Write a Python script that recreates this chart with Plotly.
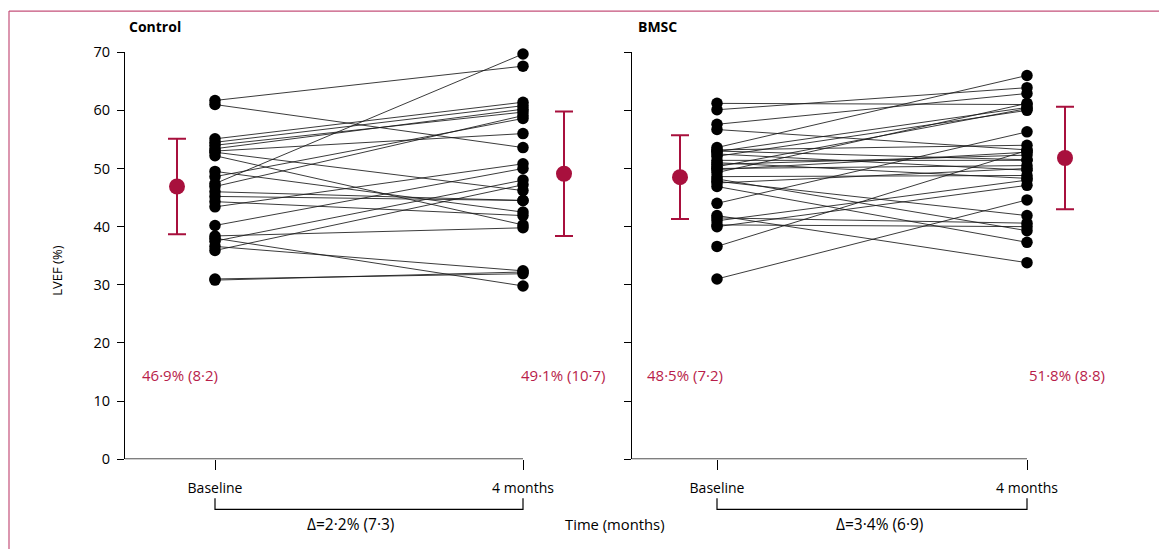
import plotly.graph_objects as go

# ---------------- data ----------------
time_labels = ["Baseline", "4 months"]
panel_titles = ["Control", "BMSC"]

control_baseline = [61.7, 61.0, 47.4, 55.1, 54.5, 54.0, 53.4, 52.8, 52.2, 53.0, 49.5, 48.6, 46.9,
                    46.0, 45.2, 44.3, 43.4, 40.2, 38.4, 37.5, 36.6, 35.9, 38.0, 31.0, 30.8]
control_4mo = [67.6, 53.6, 69.7, 61.4, 60.8, 59.7, 60.2, 46.2, 40.3, 56.0, 42.5, 58.6, 59.1,
               44.5, 44.5, 41.9, 50.8, 50.0, 39.8, 48.0, 32.4, 47.2, 29.8, 31.9, 32.2]

bmsc_baseline = [61.2, 60.1, 57.6, 56.7, 53.6, 52.9, 52.1, 51.4, 50.7, 50.0, 49.3, 48.6, 47.8,
                 46.9, 53.2, 52.5, 48.2, 44.0, 41.9, 41.0, 40.0, 41.5, 40.3, 36.6, 31.0, 49.8,
                 51.0, 47.5, 53.0, 50.3]
bmsc_4mo = [61.0, 63.9, 62.9, 53.2, 66.0, 60.5, 60.0, 51.4, 52.3, 50.5, 61.2, 48.8, 41.9,
            37.3, 54.0, 49.7, 39.3, 56.3, 33.8, 48.0, 47.1, 40.6, 40.0, 53.1, 44.6, 52.8,
            48.3, 50.0, 51.5, 60.3]

control_means = [46.9, 49.1]
control_sds = [8.2, 10.7]
bmsc_means = [48.5, 51.8]
bmsc_sds = [7.2, 8.8]
delta_means = [2.2, 3.4]
delta_sds = [7.3, 6.9]

y_ticks = [0, 10, 20, 30, 40, 50, 60, 70]

# ---------------- styling / layout constants ----------------
W, H = 1159, 549
RED = "#A8103D"
RED_TXT = "#B81D4A"
FRAME = "#C4507A"
LINE = "rgba(25,25,25,0.85)"
FONT = "Open Sans"
Y_OFF, Y_SC = 9.9, 0.963   # screen-y = Y_OFF + Y_SC * layout-y (measured)


def px_x(p):
    return p / W


def px_y(s):
    p = (s - Y_OFF) / Y_SC
    return (H - p) / H


def fmt(v):
    return f"{v}".replace(".", "\u00b7")


ydom = [px_y(458), px_y(52)]
panels = [
    dict(xaxis="x", yaxis="y", dom=[px_x(125), px_x(600)], base=215, four=523, yx=125,
         right=600, mx=[177, 564], lab=[(140, "left"), (608, "right")], title_x=127,
         dx=350, b=control_baseline, f=control_4mo, m=control_means, s=control_sds),
    dict(xaxis="x2", yaxis="y2", dom=[px_x(632), px_x(1110)], base=717, four=1027, yx=632,
         right=1110, mx=[680, 1065], lab=[(645, "left"), (1107, "right")], title_x=636,
         dx=879, b=bmsc_baseline, f=bmsc_4mo, m=bmsc_means, s=bmsc_sds),
]

fig = go.Figure()
shapes = []
annotations = []

for i, p in enumerate(panels):
    unit = p["four"] - p["base"]
    to_data = lambda px, p=p, unit=unit: (px - p["base"]) / unit
    p["range"] = [to_data(p["yx"]), to_data(p["right"])]

    # paired lines
    for b, f in zip(p["b"], p["f"]):
        fig.add_trace(go.Scatter(
            x=[0, 1], y=[b, f], mode="lines+markers", xaxis=p["xaxis"], yaxis=p["yaxis"],
            line=dict(color=LINE, width=1),
            marker=dict(color="black", size=11.5, line=dict(width=0)),
            showlegend=False, hoverinfo="skip", cliponaxis=False))

    # means +/- SD
    fig.add_trace(go.Scatter(
        x=[to_data(p["mx"][0]), to_data(p["mx"][1])], y=p["m"], mode="markers",
        xaxis=p["xaxis"], yaxis=p["yaxis"],
        marker=dict(color=RED, size=16, line=dict(width=0)),
        error_y=dict(type="data", array=p["s"], symmetric=True, color=RED,
                     thickness=2, width=9),
        showlegend=False, hoverinfo="skip", cliponaxis=False))

    # x axis line (from y axis to 4 months)
    shapes.append(dict(type="line", xref=p["xaxis"], yref=p["yaxis"],
                       x0=p["range"][0], x1=1, y0=0, y1=0,
                       line=dict(color="black", width=1.2)))
    # bracket
    shapes.append(dict(type="path", xref=p["xaxis"], yref="paper",
                       path=f"M 0,{px_y(497)} L 0,{px_y(508)} L 1,{px_y(508)} L 1,{px_y(497)}",
                       line=dict(color="black", width=1.2)))

    # stats labels
    for (lx, anc), m, s in zip(p["lab"], p["m"], p["s"]):
        annotations.append(dict(x=px_x(lx), y=px_y(374), xref="paper", yref="paper",
                                text=f"{fmt(m)}% ({fmt(s)})", showarrow=False,
                                xanchor=anc, yanchor="middle",
                                font=dict(family=FONT, size=15, color=RED_TXT)))
    # delta
    annotations.append(dict(x=px_x(p["dx"]), y=px_y(523), xref="paper", yref="paper",
                            text=f"\u0394={fmt(delta_means[i])}% ({fmt(delta_sds[i])})",
                            showarrow=False, xanchor="center", yanchor="middle",
                            font=dict(family=FONT, size=15.5, color="black")))
    # title
    annotations.append(dict(x=px_x(p["title_x"]), y=px_y(26), xref="paper", yref="paper",
                            text=f"<b>{panel_titles[i]}</b>", showarrow=False,
                            xanchor="left", yanchor="middle",
                            font=dict(family=FONT, size=14, color="black")))

annotations.append(dict(x=px_x(57), y=px_y(270), xref="paper", yref="paper",
                        text="LVEF (%)", textangle=-90, showarrow=False,
                        xanchor="center", yanchor="middle",
                        font=dict(family=FONT, size=13, color="black")))
annotations.append(dict(x=px_x(615), y=px_y(523), xref="paper", yref="paper",
                        text="Time (months)", showarrow=False,
                        xanchor="center", yanchor="middle",
                        font=dict(family=FONT, size=14.8, color="black")))

# frame (left + top)
shapes.append(dict(type="line", xref="paper", yref="paper", x0=px_x(9), x1=px_x(9),
                   y0=-0.05, y1=px_y(11), line=dict(color=FRAME, width=1.2)))
shapes.append(dict(type="line", xref="paper", yref="paper", x0=px_x(9), x1=1.02,
                   y0=px_y(11), y1=px_y(11), line=dict(color=FRAME, width=1.2)))

xcommon = dict(tickmode="array", tickvals=[0, 1], ticktext=time_labels, ticks="outside",
               ticklen=10, tickwidth=1.2, tickcolor="black", showline=False, showgrid=False,
               zeroline=False, tickfont=dict(family=FONT, size=14, color="black"),
               ticklabelstandoff=6, fixedrange=True)
ycommon = dict(range=[0, 70], domain=ydom, tickmode="array", tickvals=y_ticks,
               ticks="outside", ticklen=7, tickwidth=1.2, tickcolor="black",
               showline=True, linecolor="black", linewidth=1.2, showgrid=False,
               zeroline=False, tickfont=dict(family=FONT, size=14.5, color="black"),
               ticklabelstandoff=4, fixedrange=True)

fig.update_layout(
    width=W, height=H, autosize=False,
    margin=dict(l=0, r=0, t=0, b=0),
    paper_bgcolor="white", plot_bgcolor="white",
    xaxis=dict(domain=panels[0]["dom"], range=panels[0]["range"], anchor="y", **xcommon),
    xaxis2=dict(domain=panels[1]["dom"], range=panels[1]["range"], anchor="y2", **xcommon),
    yaxis=dict(anchor="x", **ycommon),
    yaxis2=dict(anchor="x2", showticklabels=False, **ycommon),
    shapes=shapes, annotations=annotations, showlegend=False,
)

post = ("document.documentElement.style.margin='0';document.body.style.margin='0';"
        "document.body.style.padding='0';document.body.style.overflow='hidden';"
        "document.documentElement.style.overflow='hidden';")
fig.write_html("out.html", post_script=post, config={"displayModeBar": False})
